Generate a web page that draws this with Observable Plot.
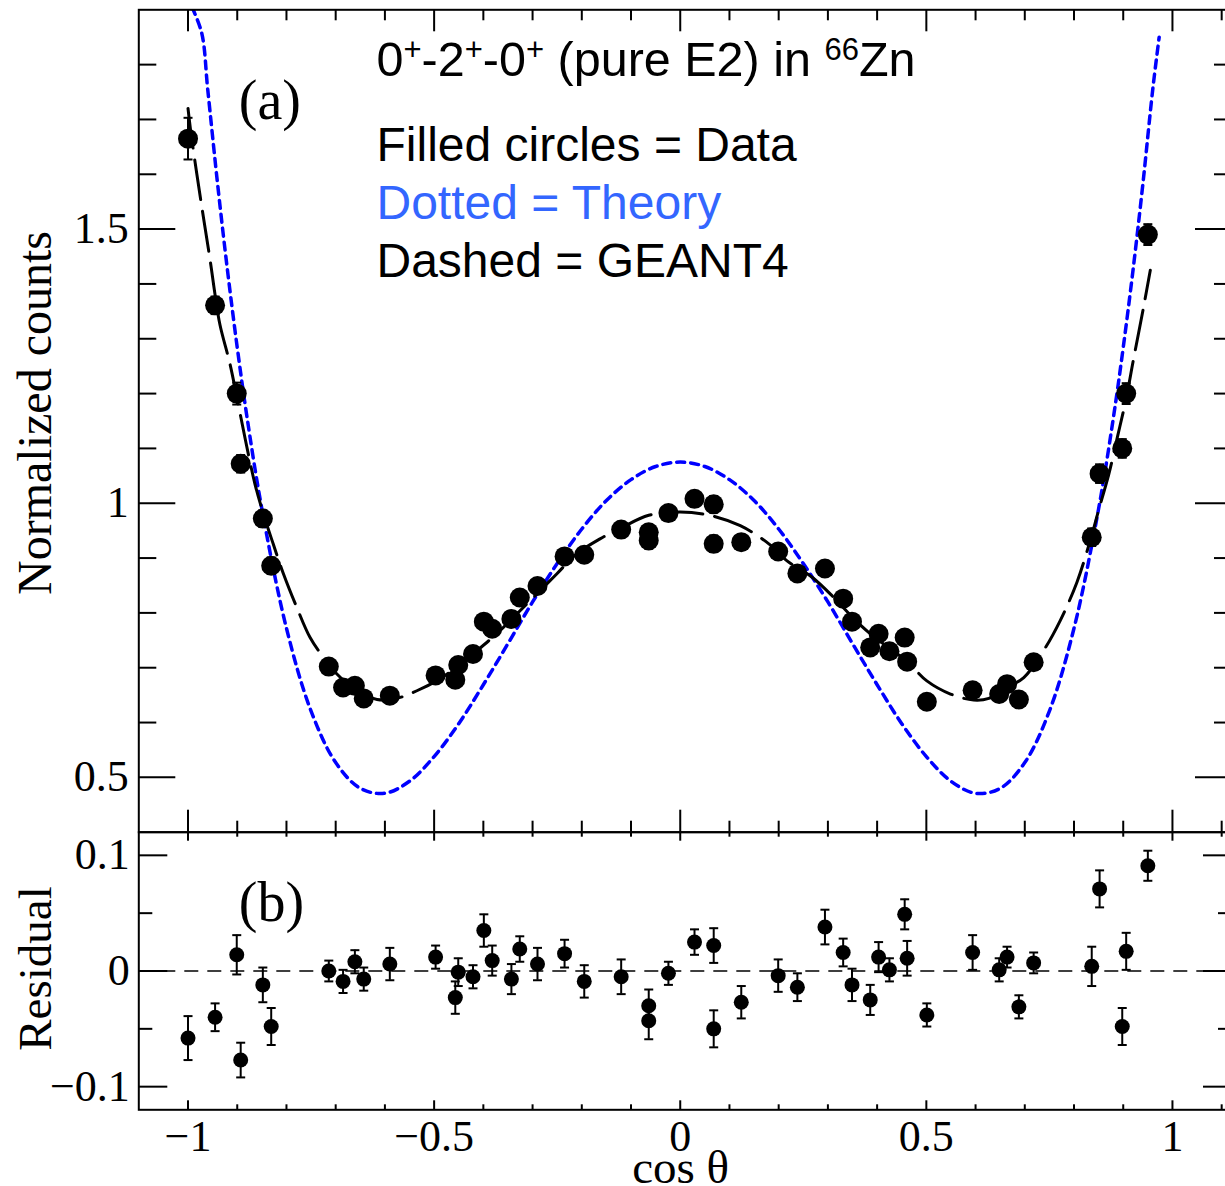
<!DOCTYPE html>
<html>
<head>
<meta charset="utf-8">
<script src="https://cdn.jsdelivr.net/npm/d3@7"></script>
<script src="https://cdn.jsdelivr.net/npm/@observablehq/plot@0.6"></script>
<style>
html, body { margin: 0; padding: 0; background: #fff; overflow: hidden; }
#wrap { position: relative; width: 1225px; height: 1186px; overflow: hidden; background: #fff; }
#wrap svg { position: absolute; left: 0; max-width: none !important; background: transparent !important; overflow: visible; }
</style>
</head>
<body>
<div id="wrap"></div>
<script>
// ---------------- data ----------------
const cosTheta = [-1.000, -0.945, -0.901, -0.893, -0.848, -0.831, -0.714, -0.685, -0.661, -0.643,
  -0.590, -0.497, -0.457, -0.451, -0.421, -0.399, -0.382, -0.343, -0.326, -0.290,
  -0.235, -0.195, -0.120, -0.064, -0.064, -0.024, 0.029, 0.068, 0.068, 0.124,
  0.199, 0.238, 0.294, 0.331, 0.349, 0.386, 0.403, 0.425, 0.456, 0.461,
  0.501, 0.594, 0.648, 0.664, 0.688, 0.718, 0.836, 0.852, 0.898, 0.906, 0.950];
const counts = [1.665, 1.361, 1.200, 1.072, 0.972, 0.886, 0.702, 0.664, 0.667, 0.644,
  0.649, 0.686, 0.678, 0.705, 0.725, 0.784, 0.771, 0.789, 0.828, 0.849,
  0.903, 0.906, 0.952, 0.947, 0.932, 0.982, 1.008, 0.998, 0.926, 0.929,
  0.912, 0.872, 0.881, 0.826, 0.784, 0.737, 0.762, 0.730, 0.755, 0.711,
  0.638, 0.659, 0.652, 0.670, 0.642, 0.710, 0.938, 1.054, 1.100, 1.200, 1.490];
const countErr = [0.038, 0.016, 0.020, 0.016, 0.015, 0.015, 0.006, 0.007, 0.006, 0.007,
  0.009, 0.007, 0.010, 0.009, 0.008, 0.011, 0.010, 0.010, 0.009, 0.012,
  0.011, 0.013, 0.014, 0.013, 0.015, 0.010, 0.011, 0.015, 0.015, 0.013,
  0.013, 0.010, 0.013, 0.009, 0.011, 0.009, 0.010, 0.007, 0.010, 0.011,
  0.006, 0.010, 0.007, 0.006, 0.006, 0.006, 0.016, 0.017, 0.017, 0.019, 0.019];
const residual = [-0.058, -0.040, 0.014, -0.077, -0.012, -0.048, 0.000, -0.009, 0.008, -0.007,
  0.006, 0.012, -0.023, -0.001, -0.005, 0.035, 0.009, -0.007, 0.019, 0.006,
  0.015, -0.009, -0.005, -0.030, -0.043, -0.002, 0.025, 0.022, -0.050, -0.027,
  -0.004, -0.014, 0.038, 0.016, -0.012, -0.025, 0.012, 0.001, 0.049, 0.011,
  -0.038, 0.016, 0.001, 0.012, -0.031, 0.007, 0.004, 0.071, -0.048, 0.017, 0.091];
const residualErr = [0.019, 0.012, 0.017, 0.015, 0.015, 0.016, 0.009, 0.010, 0.010, 0.010,
  0.014, 0.010, 0.014, 0.012, 0.010, 0.014, 0.013, 0.013, 0.011, 0.014,
  0.012, 0.014, 0.015, 0.014, 0.016, 0.010, 0.011, 0.015, 0.016, 0.014,
  0.014, 0.012, 0.015, 0.012, 0.014, 0.013, 0.013, 0.010, 0.013, 0.015,
  0.010, 0.015, 0.010, 0.009, 0.010, 0.009, 0.017, 0.016, 0.016, 0.016, 0.013];

// Theory (dotted blue) curve
const theoryX = [-0.992, -0.972, -0.96, -0.94, -0.92, -0.90, -0.88, -0.85, -0.80, -0.75, -0.70, -0.65,
  -0.60, -0.55, -0.50, -0.45, -0.40, -0.35, -0.30, -0.25, -0.20, -0.15, -0.10, -0.05, 0,
  0.05, 0.10, 0.15, 0.20, 0.25, 0.30, 0.35, 0.40, 0.45, 0.50, 0.55, 0.60, 0.65, 0.70,
  0.75, 0.80, 0.85, 0.88, 0.90, 0.92, 0.94, 0.96, 0.973];
const theoryY = [1.905, 1.857, 1.755, 1.583, 1.426, 1.284, 1.156, 0.990, 0.772, 0.621, 0.527, 0.480,
  0.471, 0.493, 0.538, 0.598, 0.669, 0.744, 0.820, 0.890, 0.953, 1.005, 1.043, 1.067, 1.075,
  1.067, 1.043, 1.005, 0.953, 0.890, 0.820, 0.744, 0.669, 0.598, 0.538, 0.493, 0.471, 0.480, 0.527,
  0.621, 0.772, 0.990, 1.156, 1.284, 1.426, 1.583, 1.755, 1.850];

// GEANT4 (dashed black) curve
const geantX = [-1.0, -0.994, -0.975, -0.955, -0.945, -0.935, -0.915, -0.90, -0.884, -0.864, -0.847,
  -0.827, -0.806, -0.779, -0.752, -0.725, -0.698, -0.657, -0.616, -0.576, -0.535, -0.495,
  -0.454, -0.413, -0.373, -0.332, -0.291, -0.251, -0.21, -0.163, -0.12, -0.064, 0,
  0.06, 0.122, 0.18, 0.217, 0.268, 0.312, 0.352, 0.386, 0.461, 0.501, 0.549, 0.596,
  0.627, 0.664, 0.698, 0.738, 0.772, 0.806, 0.833, 0.85, 0.871, 0.888, 0.905, 0.921, 0.942, 0.955];
const geantY = [1.72, 1.675, 1.558, 1.443, 1.38, 1.325, 1.255, 1.19, 1.118, 1.035, 0.981,
  0.926, 0.871, 0.810, 0.755, 0.719, 0.689, 0.658, 0.642, 0.644, 0.658, 0.676,
  0.701, 0.731, 0.762, 0.798, 0.835, 0.871, 0.908, 0.935, 0.955, 0.978, 0.984,
  0.978, 0.959, 0.926, 0.895, 0.865, 0.828, 0.790, 0.762, 0.711, 0.676, 0.652, 0.641,
  0.644, 0.664, 0.682, 0.731, 0.786, 0.856, 0.932, 0.987, 1.054, 1.120, 1.187, 1.263, 1.361, 1.425];

// Axes: ticks and labels
const xMajorTicks = [-1, -0.5, 0, 0.5, 1];
const xTickLabels = ["\u22121", "\u22120.5", "0", "0.5", "1"];
const xMinorTicks = [-0.9, -0.8, -0.7, -0.6, -0.4, -0.3, -0.2, -0.1, 0.1, 0.2, 0.3, 0.4, 0.6, 0.7, 0.8, 0.9, 1.1];
const topYMajor = [0.5, 1, 1.5];
const topYLabels = ["0.5", "1", "1.5"];
const topYMinor = [0.6, 0.7, 0.8, 0.9, 1.1, 1.2, 1.3, 1.4, 1.6, 1.7, 1.8];
const resYMajor = [-0.1, 0, 0.1];
const resYLabels = ["\u22120.1", "0", "0.1"];
const resYMinor = [-0.05, 0.05];

const titleText = "0+-2+-0+ (pure E2) in 66Zn";
const legendLines = ["Filled circles = Data", "Dotted = Theory", "Dashed = GEANT4"];
const legendColors = ["black", "#3366ff", "black"];

// ---------------- build tables ----------------
const points = cosTheta.map((x, i) => ({x, y: counts[i], e: countErr[i], r: residual[i], re: residualErr[i]}));
const theory = theoryX.map((x, i) => ({x, y: theoryY[i]}));
const geant = geantX.map((x, i) => ({x, y: geantY[i]}));

const SERIF = "Liberation Serif, Times New Roman, serif";
const SANS = "Liberation Sans, Arial, Helvetica, sans-serif";

const W = 1240, ML = 138.3, MR = 8;
const IW = W - ML - MR;
const xDomain = [-1.1, 1.122];

const capSymbol = {
  draw(context, size) {
    const r = Math.sqrt(size / Math.PI);
    context.moveTo(-r, 0);
    context.lineTo(r, 0);
  }
};

function tickMarks(IH, xMaj, xMin, yMajLen, yMinLen, yMaj, yMin) {
  const sw = 2;
  return [
    Plot.ruleX(xMajorTicks, {x: d => d, insetTop: IH - xMaj, stroke: "black", strokeWidth: sw}),
    Plot.ruleX(xMajorTicks, {x: d => d, insetBottom: IH - xMaj, stroke: "black", strokeWidth: sw}),
    Plot.ruleX(xMinorTicks, {x: d => d, insetTop: IH - xMin, stroke: "black", strokeWidth: sw}),
    Plot.ruleX(xMinorTicks, {x: d => d, insetBottom: IH - xMin, stroke: "black", strokeWidth: sw}),
    Plot.ruleY(yMaj, {y: d => d, insetRight: IW - yMajLen, stroke: "black", strokeWidth: sw}),
    Plot.ruleY(yMaj, {y: d => d, insetLeft: IW - yMajLen, stroke: "black", strokeWidth: sw}),
    Plot.ruleY(yMin, {y: d => d, insetRight: IW - yMinLen, stroke: "black", strokeWidth: sw}),
    Plot.ruleY(yMin, {y: d => d, insetLeft: IW - yMinLen, stroke: "black", strokeWidth: sw})
  ];
}

// ---------------- top panel ----------------
const H1 = 850, MT1 = 9.3, MB1 = 18.3;
const IH1 = H1 - MT1 - MB1;
const legendOffsets = [150.7, 209.0, 267.4];

const topPlot = Plot.plot({
  width: W, height: H1,
  marginLeft: ML, marginRight: MR, marginTop: MT1, marginBottom: MB1,
  x: {domain: xDomain, axis: null},
  y: {domain: [0.4, 1.9], axis: null},
  style: {background: "transparent", overflow: "visible"},
  marks: [
    Plot.line(theory, {x: "x", y: "y", stroke: "#0000ff", strokeWidth: 3.5, strokeDasharray: "8 6", curve: "catmull-rom", clip: true}),
    Plot.line(geant, {x: "x", y: "y", stroke: "black", strokeWidth: 3, strokeDasharray: "40 12", curve: "catmull-rom", clip: true}),
    Plot.ruleX(points, {x: "x", y1: d => d.y - d.e, y2: d => d.y + d.e, stroke: "black", strokeWidth: 2}),
    Plot.dot(points, {x: "x", y: d => d.y - d.e, symbol: capSymbol, r: 4.5, stroke: "black", fill: "none", strokeWidth: 2}),
    Plot.dot(points, {x: "x", y: d => d.y + d.e, symbol: capSymbol, r: 4.5, stroke: "black", fill: "none", strokeWidth: 2}),
    Plot.dot(points, {x: "x", y: "y", r: 10, fill: "black", stroke: "none"}),
    ...tickMarks(IH1, 22, 11, 37, 18, topYMajor, topYMinor),
    Plot.frame({stroke: "black", strokeWidth: 2}),
    Plot.text(topYMajor, {y: d => d, text: (d, i) => topYLabels[i], frameAnchor: "left", dx: -10, textAnchor: "end", lineAnchor: "middle", fontSize: 44, fontFamily: SERIF, fill: "black"}),
    Plot.text(["Normalized counts"], {frameAnchor: "left", rotate: -90, dx: -87.5, dy: -8, textAnchor: "middle", lineAnchor: "bottom", fontSize: 48, fontFamily: SERIF, fill: "black"}),
    Plot.text(["(a)"], {frameAnchor: "top-left", dx: 100, dy: 108.7, textAnchor: "start", lineAnchor: "bottom", fontSize: 56, fontFamily: SERIF, fill: "black"}),
    Plot.text([titleText], {frameAnchor: "top-left", dx: 237.7, dy: 65.7, textAnchor: "start", lineAnchor: "bottom", fontSize: 48.5, fontFamily: SANS, fill: "black"}),
    ...legendLines.map((line, i) =>
      Plot.text([line], {frameAnchor: "top-left", dx: 237.7, dy: legendOffsets[i], textAnchor: "start", lineAnchor: "bottom", fontSize: 48, fontFamily: SANS, fill: legendColors[i]})
    )
  ]
});

// title with superscripts
const titleEl = Array.from(topPlot.querySelectorAll("text")).find(t => t.textContent === titleText);
if (titleEl) {
  const parts = [["0", false], ["+", true], ["-2", false], ["+", true], ["-0", false], ["+", true], [" (pure E2) in ", false], ["66", true], ["Zn", false]];
  titleEl.textContent = "";
  titleEl.setAttribute("style", "white-space: pre");
  let raised = false;
  for (const [s, sup] of parts) {
    const ts = document.createElementNS("http://www.w3.org/2000/svg", "tspan");
    if (sup !== raised) { ts.setAttribute("dy", sup ? -16 : 16); raised = sup; }
    if (sup) ts.setAttribute("font-size", 31);
    ts.textContent = s;
    titleEl.appendChild(ts);
  }
}

// ---------------- bottom panel ----------------
const H2 = 366, MT2 = 11.7, MB2 = 76.7;
const IH2 = H2 - MT2 - MB2;

const botPlot = Plot.plot({
  width: W, height: H2,
  marginLeft: ML, marginRight: MR, marginTop: MT2, marginBottom: MB2,
  x: {domain: xDomain, axis: null},
  y: {domain: [-0.12, 0.12], axis: null},
  style: {background: "transparent", overflow: "visible"},
  marks: [
    Plot.ruleY([0], {stroke: "black", strokeWidth: 1.5, strokeDasharray: "14 9"}),
    Plot.ruleX(points, {x: "x", y1: d => d.r - d.re, y2: d => d.r + d.re, stroke: "black", strokeWidth: 2}),
    Plot.dot(points, {x: "x", y: d => d.r - d.re, symbol: capSymbol, r: 4.5, stroke: "black", fill: "none", strokeWidth: 2}),
    Plot.dot(points, {x: "x", y: d => d.r + d.re, symbol: capSymbol, r: 4.5, stroke: "black", fill: "none", strokeWidth: 2}),
    Plot.dot(points, {x: "x", y: "r", r: 7.5, fill: "black", stroke: "none"}),
    ...tickMarks(IH2, 9, 5, 29, 14, resYMajor, resYMinor),
    Plot.frame({stroke: "black", strokeWidth: 2}),
    Plot.text(resYMajor, {y: d => d, text: (d, i) => resYLabels[i], frameAnchor: "left", dx: -9, textAnchor: "end", lineAnchor: "middle", fontSize: 44, fontFamily: SERIF, fill: "black"}),
    Plot.text(xMajorTicks, {x: d => d, text: (d, i) => xTickLabels[i], frameAnchor: "bottom", dy: 41, textAnchor: "middle", lineAnchor: "bottom", fontSize: 44, fontFamily: SERIF, fill: "black"}),
    Plot.text(["cos \u03b8"], {frameAnchor: "bottom", dx: -5, dy: 73, textAnchor: "middle", lineAnchor: "bottom", fontSize: 47, fontFamily: SERIF, fill: "black"}),
    Plot.text(["Residual"], {frameAnchor: "left", rotate: -90, dx: -87.5, dy: -2.5, textAnchor: "middle", lineAnchor: "bottom", fontSize: 47, fontFamily: SERIF, fill: "black"}),
    Plot.text(["(b)"], {frameAnchor: "top-left", dx: 100, dy: 88.3, textAnchor: "start", lineAnchor: "bottom", fontSize: 56, fontFamily: SERIF, fill: "black"})
  ]
});

const wrap = document.getElementById("wrap");
topPlot.style.top = "0px";
botPlot.style.top = "820px";
wrap.appendChild(topPlot);
wrap.appendChild(botPlot);
</script>
</body>
</html>
